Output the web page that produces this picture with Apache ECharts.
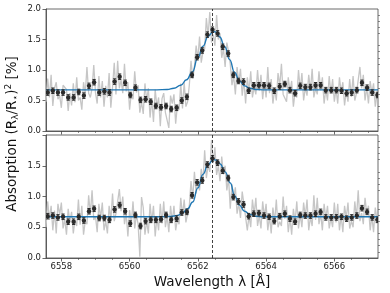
<!DOCTYPE html>
<html><head><meta charset="utf-8">
<script src="https://cdn.jsdelivr.net/npm/echarts@6/dist/echarts.min.js"></script>
<style>html,body{margin:0;padding:0;background:#fff}#c{width:390px;height:293px}</style>
</head><body><div id="c"></div>
<script>
const binWave = [6557.60,6557.75,6557.90,6558.05,6558.20,6558.36,6558.51,6558.66,6558.81,6558.96,6559.11,6559.26,6559.41,6559.56,6559.71,6559.87,6560.02,6560.17,6560.32,6560.47,6560.62,6560.77,6560.92,6561.07,6561.22,6561.38,6561.53,6561.68,6561.83,6561.98,6562.13,6562.28,6562.43,6562.58,6562.73,6562.89,6563.04,6563.19,6563.34,6563.49,6563.64,6563.79,6563.94,6564.09,6564.24,6564.40,6564.55,6564.70,6564.85,6565.00,6565.15,6565.30,6565.45,6565.60,6565.75,6565.91,6566.06,6566.21,6566.36,6566.51,6566.66,6566.81,6566.96,6567.11,6567.26];
const binTop = [0.63,0.66,0.63,0.63,0.55,0.55,0.64,0.58,0.74,0.80,0.63,0.65,0.63,0.81,0.89,0.79,0.59,0.71,0.51,0.52,0.48,0.41,0.39,0.41,0.36,0.38,0.50,0.56,0.92,1.21,1.32,1.58,1.66,1.60,1.38,1.27,0.92,0.82,0.81,0.66,0.75,0.75,0.75,0.74,0.66,0.73,0.77,0.67,0.62,0.74,0.72,0.72,0.75,0.75,0.67,0.67,0.67,0.66,0.62,0.63,0.67,0.79,0.71,0.63,0.59];
const binBot = [0.68,0.69,0.66,0.67,0.59,0.59,0.67,0.61,0.76,0.80,0.65,0.65,0.62,0.79,0.86,0.76,0.56,0.70,0.52,0.60,0.62,0.62,0.63,0.70,0.62,0.64,0.74,0.75,1.02,1.23,1.26,1.52,1.62,1.55,1.42,1.30,0.99,0.92,0.87,0.68,0.72,0.73,0.69,0.67,0.60,0.68,0.72,0.64,0.59,0.70,0.69,0.69,0.72,0.75,0.66,0.66,0.66,0.67,0.64,0.66,0.69,0.81,0.75,0.66,0.62];
const binErr = 0.045;

const grayStart = 6557.55, grayStep = 0.05;
const grayTop = [0.48,0.86,0.55,0.92,0.41,0.70,0.80,0.52,0.58,0.38,0.75,0.72,0.68,0.33,0.62,0.42,0.78,0.47,0.88,0.50,0.55,0.35,0.80,0.60,1.05,0.62,0.55,0.70,1.08,0.63,
0.45,0.90,0.55,0.82,0.40,0.74,0.55,0.95,0.38,0.72,1.12,0.60,1.15,0.70,0.84,0.62,1.10,0.65,0.80,0.35,0.62,0.52,0.98,0.63,0.75,0.30,0.48,0.28,0.78,0.50,
0.70,0.22,0.52,0.15,0.68,0.40,0.55,0.08,0.53,0.62,0.30,0.31,0.05,0.58,0.45,0.60,0.12,0.42,0.35,0.78,0.37,0.80,0.40,0.48,0.75,1.15,0.86,1.05,1.40,1.18,
1.55,1.12,1.30,1.35,1.85,1.55,1.95,1.45,1.58,1.40,1.90,1.50,1.60,1.20,1.35,1.05,1.45,1.30,1.10,0.75,0.90,0.60,1.05,0.80,1.02,0.58,0.83,0.45,0.88,0.65,
0.98,0.55,0.72,0.60,1.00,0.66,0.92,0.52,0.80,0.55,1.05,0.62,0.85,0.45,0.68,0.50,0.95,0.74,1.10,0.60,0.62,0.48,0.88,0.65,0.82,0.40,0.64,0.55,1.00,0.68,
0.95,0.50,0.71,0.58,0.92,0.66,1.02,0.55,0.70,0.60,0.98,0.67,0.88,0.45,0.68,0.50,0.90,0.61,0.85,0.48,0.69,0.45,0.88,0.64,0.80,0.42,0.65,0.48,0.85,0.56,
0.90,0.50,0.62,0.62,1.05,0.70,0.92,0.50,0.72,0.45,0.82,0.62,0.78,0.40,0.59];
const grayBot = [0.50,0.92,0.62,0.85,0.45,0.77,0.40,0.88,0.70,0.90,0.48,0.63,0.38,0.80,0.59,0.75,0.40,0.62,0.52,0.95,0.54,0.85,0.38,0.60,0.55,1.02,0.71,1.10,0.62,0.68,
0.42,0.88,0.65,0.90,0.45,0.60,0.40,0.85,0.61,1.05,0.60,0.72,0.70,1.12,0.76,1.00,0.55,0.73,0.35,0.78,0.55,0.92,0.48,0.70,0.55,0.02,0.99,0.82,0.38,0.60,
0.40,0.88,0.58,0.85,0.35,0.66,0.45,0.88,0.56,0.92,0.50,0.68,0.42,0.85,0.59,0.85,0.45,0.62,0.55,0.98,0.69,0.95,0.58,0.72,0.85,1.25,0.96,1.40,1.05,1.24,
1.10,1.45,1.23,1.75,1.30,1.51,1.40,1.92,1.54,1.80,1.35,1.50,1.25,1.65,1.36,1.50,1.10,1.30,0.80,1.20,0.97,1.15,0.72,0.89,0.65,1.08,0.88,0.90,0.45,0.69,
0.50,0.95,0.71,0.98,0.52,0.69,0.48,0.92,0.67,0.88,0.45,0.68,0.40,0.82,0.58,0.95,0.50,0.59,0.52,1.00,0.64,0.85,0.42,0.65,0.38,0.80,0.59,0.92,0.48,0.70,
0.50,0.90,0.67,0.95,0.45,0.67,0.52,1.02,0.62,0.98,0.55,0.72,0.45,0.88,0.65,0.85,0.48,0.65,0.50,0.90,0.58,0.88,0.45,0.68,0.42,0.85,0.65,0.90,0.48,0.60,
0.50,0.92,0.65,1.10,0.60,0.73,0.55,0.98,0.72,0.85,0.45,0.68,0.42,0.82,0.62];

const modelTopWave = [6557.55,6560.80,6561.10,6561.30,6561.50,6561.67,6561.84,6562.00,6562.15,6562.30,6562.45,6562.55,6562.64,6562.79,6562.93,6563.08,6563.22,6563.37,6563.52,6563.70,6563.90,6567.28];
const modelTopVal  = [0.675,0.675,0.68,0.70,0.75,0.84,0.97,1.20,1.39,1.55,1.63,1.62,1.54,1.38,1.17,0.96,0.82,0.74,0.70,0.68,0.675,0.675];
const modelBotWave = [6557.55,6560.90,6561.20,6561.40,6561.55,6561.70,6561.85,6562.00,6562.15,6562.30,6562.45,6562.55,6562.65,6562.80,6562.95,6563.08,6563.22,6563.37,6563.52,6563.70,6563.90,6567.28];
const modelBotVal  = [0.67,0.67,0.675,0.69,0.73,0.80,0.91,1.14,1.36,1.52,1.60,1.59,1.53,1.40,1.22,1.01,0.86,0.76,0.71,0.68,0.67,0.67];

const lineCenter = 6562.42;
const xMin = 6557.55, xMax = 6567.28;
const xTicks = [6558,6560,6562,6564,6566];
const xMinorTicks = [6558.5,6559,6559.5,6560.5,6561,6561.5,6562.5,6563,6563.5,6564.5,6565,6565.5,6566.5,6567];
const yMinorTicks = [0.1,0.2,0.3,0.4,0.6,0.7,0.8,0.9,1.1,1.2,1.3,1.4,1.6,1.7,1.8,1.9];

const FONT = 'DejaVu Sans';
const AX = '#444';
const chart = echarts.init(document.getElementById('c'), null, {renderer:'canvas'});

function xMain(gi, showLabel){
  return {type:'value', gridIndex:gi, min:xMin, max:xMax, position:'bottom',
    axisLine:{show:true, onZero:false, lineStyle:{color:AX, width:0.8}},
    axisTick:{show:true, length:3.5, customValues:xTicks, lineStyle:{color:AX, width:0.8}},
    axisLabel:{show:showLabel, customValues:xTicks, fontSize:8.5, color:'#222', fontFamily:FONT, margin:4,
      formatter:(v)=>String(Math.round(v))},
    splitLine:{show:false},
    name: showLabel ? 'Wavelength λ [Å]' : '', nameLocation:'middle', nameGap:17,
    nameTextStyle:{fontSize:13.5, color:'#111', fontFamily:FONT}};
}
function xMinor(gi){
  return {type:'value', gridIndex:gi, min:xMin, max:xMax, position:'bottom',
    axisLine:{show:false}, axisTick:{show:true, length:2, customValues:xMinorTicks, lineStyle:{color:AX, width:0.6}},
    axisLabel:{show:false}, splitLine:{show:false}};
}
function yMain(gi, hideTop){
  return {type:'value', gridIndex:gi, min:0, max:2, interval:0.5,
    axisLine:{show:true, onZero:false, lineStyle:{color:AX, width:0.8}},
    axisTick:{show:true, length:3.5, lineStyle:{color:AX, width:0.8}},
    axisLabel:{fontSize:8.5, color:'#222', fontFamily:FONT, margin:5,
      formatter:(v)=> (hideTop && v>=2) ? '' : v.toFixed(1)},
    splitLine:{show:false}};
}
function yMinor(gi){
  return {type:'value', gridIndex:gi, min:0, max:2,
    axisLine:{show:false}, axisTick:{show:true, length:2, customValues:yMinorTicks, lineStyle:{color:AX, width:0.6}},
    axisLabel:{show:false}, splitLine:{show:false}};
}
function errRender(params, api){
  const x = api.value(0), y = api.value(1), e = api.value(2);
  const p = api.coord([x,y]), hi = api.coord([x,y+e]), lo = api.coord([x,y-e]);
  const st = {stroke:'#2a2a2a', lineWidth:1};
  return {type:'group', children:[
    {type:'line', shape:{x1:p[0],y1:hi[1],x2:p[0],y2:lo[1]}, style:st},
    {type:'line', shape:{x1:p[0]-1.6,y1:hi[1],x2:p[0]+1.6,y2:hi[1]}, style:st},
    {type:'line', shape:{x1:p[0]-1.6,y1:lo[1],x2:p[0]+1.6,y2:lo[1]}, style:st},
    {type:'circle', shape:{cx:p[0],cy:p[1],r:2.2}, style:{fill:'#2a2a2a'}}
  ]};
}
function panelSeries(xi, yi, gray, model, modelVal, bins){
  return [
    {type:'line', xAxisIndex:xi, yAxisIndex:yi, data:gray.map((v,i)=>[grayStart+i*grayStep, v]),
      showSymbol:false, lineStyle:{color:'#c6c6c6', width:1.3}, z:1, animation:false},
    {type:'line', xAxisIndex:xi, yAxisIndex:yi, data:model.map((w,i)=>[w, modelVal[i]]),
      showSymbol:false, smooth:0.5, smoothMonotone:'x', lineStyle:{color:'#1f77b4', width:1.4}, z:2, animation:false,
      markLine:{silent:true, symbol:'none', label:{show:false}, animation:false,
        lineStyle:{color:'#111', type:[3,2], width:0.8}, data:[{xAxis:lineCenter}]}},
    {type:'custom', xAxisIndex:xi, yAxisIndex:yi, clip:true, data:binWave.map((w,i)=>[w, bins[i], binErr]),
      renderItem:errRender, z:3, animation:false}
  ];
}

chart.setOption({
  backgroundColor:'#fff',
  animation:false,
  grid:[
    {left:46, top:9, width:332, height:122, show:true, borderColor:AX, borderWidth:0.8, backgroundColor:'transparent'},
    {left:46, top:135, width:332, height:123, show:true, borderColor:AX, borderWidth:0.8, backgroundColor:'transparent'}
  ],
  xAxis:[xMain(0,false), xMinor(0), xMain(1,true), xMinor(1)],
  yAxis:[yMain(0,false), yMinor(0), yMain(1,true), yMinor(1)],
  series:[].concat(
    panelSeries(0,0,grayTop,modelTopWave,modelTopVal,binTop),
    panelSeries(2,2,grayBot,modelBotWave,modelBotVal,binBot)
  ),
  graphic:[{type:'text', x:12, y:134, rotation:Math.PI/2,
    style:{text:'Absorption (R{s|λ}/R{s|⋆}){p|2} [%]', fontSize:13.5, fontFamily:FONT, fill:'#111',
      align:'center', verticalAlign:'middle',
      rich:{s:{fontSize:9, fontFamily:FONT, fill:'#111', verticalAlign:'bottom', lineHeight:16},
            p:{fontSize:9, fontFamily:FONT, fill:'#111', verticalAlign:'top', lineHeight:16}}}}]
});
</script></body></html>
